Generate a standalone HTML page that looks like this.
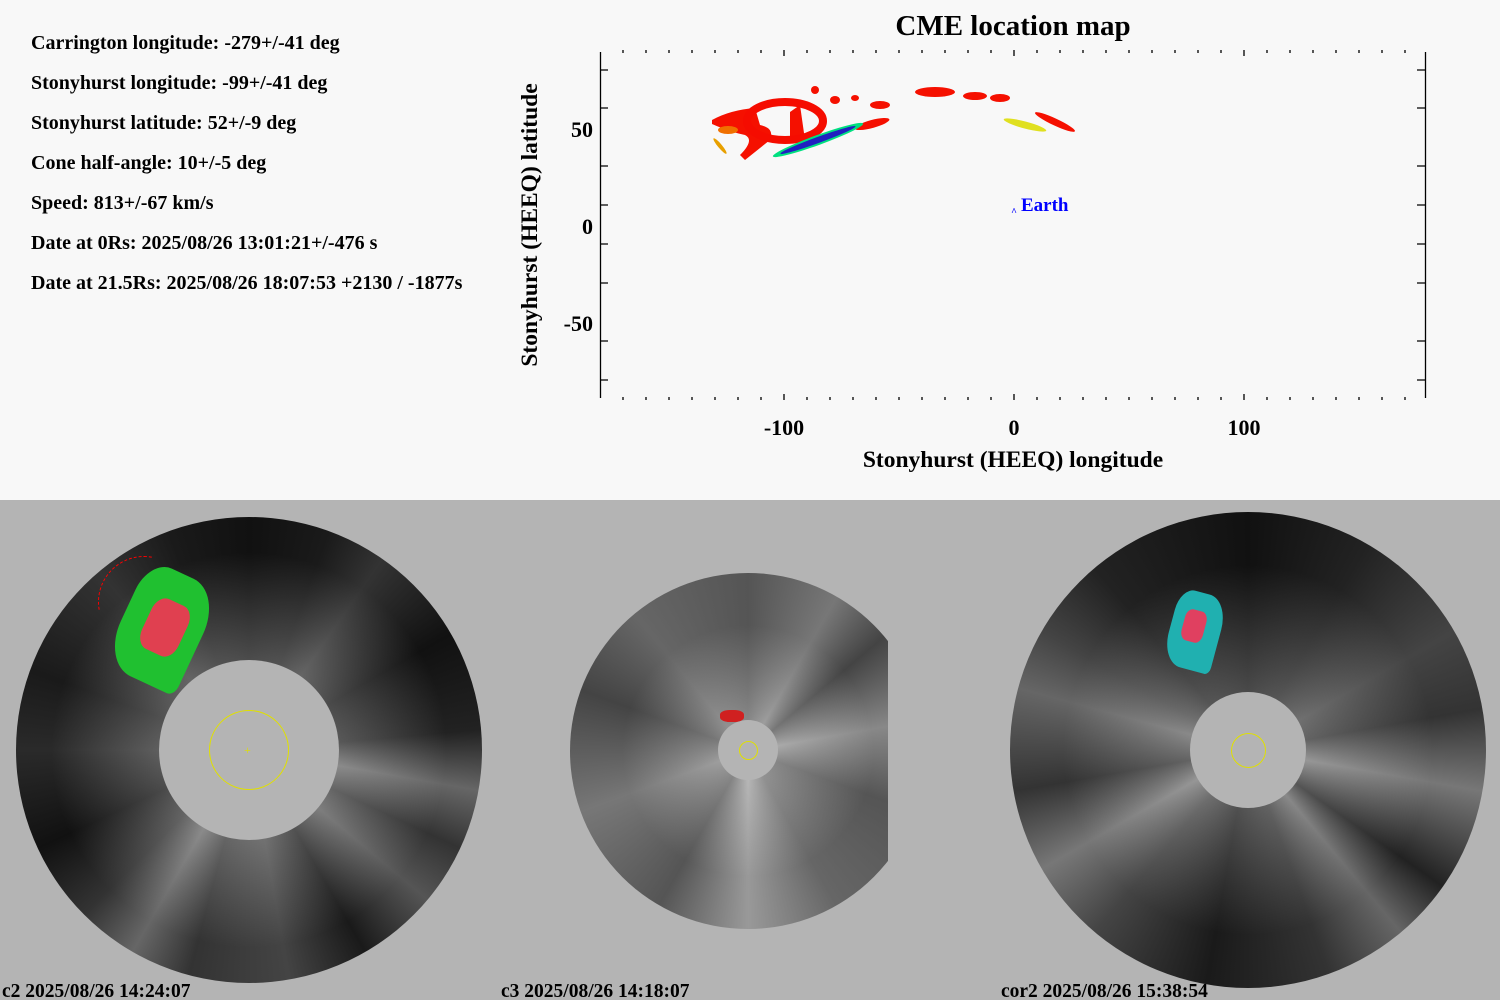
<!DOCTYPE html>
<html><head><meta charset="utf-8"><style>
body{margin:0;width:1500px;height:1000px;overflow:hidden;background:#f8f8f8;font-family:"Liberation Serif",serif;position:relative}
.info{position:absolute;left:31px;font-size:20px;font-weight:bold;color:#000;white-space:nowrap}
.bot{position:absolute;left:0;top:500px;width:1500px;height:500px;background:#b4b4b4;overflow:hidden}
.disk{position:absolute;border-radius:50%}
.cap{position:absolute;top:481px;font-size:19.5px;font-weight:bold;white-space:nowrap}
</style></head><body>
<div class="info" style="top:32px">Carrington longitude: -279+/-41 deg</div>
<div class="info" style="top:72px">Stonyhurst longitude: -99+/-41 deg</div>
<div class="info" style="top:112px">Stonyhurst latitude: 52+/-9 deg</div>
<div class="info" style="top:152px">Cone half-angle: 10+/-5 deg</div>
<div class="info" style="top:192px">Speed: 813+/-67 km/s</div>
<div class="info" style="top:232px">Date at 0Rs: 2025/08/26 13:01:21+/-476 s</div>
<div class="info" style="top:272px">Date at 21.5Rs: 2025/08/26 18:07:53 +2130 / -1877s</div>

<svg style="position:absolute;left:0;top:0" width="1500" height="500" font-family="Liberation Serif, serif" font-weight="bold">
<text x="1013" y="35" font-size="29" text-anchor="middle">CME location map</text>
<g stroke="#000" stroke-width="1.3" fill="none">
<line x1="600.5" y1="52" x2="600.5" y2="398"/>
<line x1="1425.5" y1="52" x2="1425.5" y2="398"/>
<path d="M623,50v3M646,50v3M669,50v3M692,50v3M715,50v3M738,50v3M761,50v3M784,50v6M807,50v3M830,50v3M853,50v3M876,50v3M899,50v3M922,50v3M945,50v3M968,50v3M991,50v3M1014,50v6M1037,50v3M1060,50v3M1083,50v3M1106,50v3M1129,50v3M1152,50v3M1175,50v3M1198,50v3M1221,50v3M1244,50v6M1267,50v3M1290,50v3M1313,50v3M1336,50v3M1359,50v3M1382,50v3M1405,50v3"/>
<path d="M623,400v-3M646,400v-3M669,400v-3M692,400v-3M715,400v-3M738,400v-3M761,400v-3M784,400v-6M807,400v-3M830,400v-3M853,400v-3M876,400v-3M899,400v-3M922,400v-3M945,400v-3M968,400v-3M991,400v-3M1014,400v-6M1037,400v-3M1060,400v-3M1083,400v-3M1106,400v-3M1129,400v-3M1152,400v-3M1175,400v-3M1198,400v-3M1221,400v-3M1244,400v-6M1267,400v-3M1290,400v-3M1313,400v-3M1336,400v-3M1359,400v-3M1382,400v-3M1405,400v-3"/>
<path d="M600,70h8M600,108h8M600,166h8M600,205h8M600,244h8M600,283h8M600,341h8M600,380h8"/>
<path d="M1425,70h-8M1425,108h-8M1425,166h-8M1425,205h-8M1425,244h-8M1425,283h-8M1425,341h-8M1425,380h-8"/>
</g>
<g font-size="22" text-anchor="middle">
<text x="784" y="435">-100</text><text x="1014" y="435">0</text><text x="1244" y="435">100</text>
<text x="593" y="137" text-anchor="end">50</text><text x="593" y="234" text-anchor="end">0</text><text x="593" y="331" text-anchor="end">-50</text>
</g>
<text x="1013" y="467" font-size="23.5" text-anchor="middle">Stonyhurst (HEEQ) longitude</text>
<text transform="translate(537,225) rotate(-90)" font-size="23.5" text-anchor="middle">Stonyhurst (HEEQ) latitude</text>
<text x="1021" y="211" font-size="19" fill="#0000ff">Earth</text>
<text x="1014" y="215" font-size="10" fill="#0000ff" text-anchor="middle">^</text>
<g fill="#f51000">
<path d="M712,120 Q730,110 755,108 L760,125 Q775,128 770,140 L745,160 L740,155 Q755,140 745,135 Q730,132 712,124Z"/>
<path d="M790,112 L800,105 L805,140 L790,140Z"/>
<ellipse cx="785" cy="121" rx="38" ry="19" fill="none" stroke="#f50c00" stroke-width="8"/>
<ellipse cx="880" cy="105" rx="10" ry="4"/><ellipse cx="872" cy="124" rx="18" ry="4" transform="rotate(-15 872 124)"/>
<ellipse cx="935" cy="92" rx="20" ry="5"/><ellipse cx="975" cy="96" rx="12" ry="4"/><ellipse cx="1000" cy="98" rx="10" ry="4"/>
<ellipse cx="1055" cy="122" rx="22" ry="3.5" transform="rotate(25 1055 122)"/>
<ellipse cx="835" cy="100" rx="5" ry="4"/><ellipse cx="855" cy="98" rx="4" ry="3"/><ellipse cx="815" cy="90" rx="4" ry="4"/>
</g>
<ellipse cx="728" cy="130" rx="10" ry="4" fill="#f07000"/>
<ellipse cx="720" cy="146" rx="10" ry="2" fill="#e8a000" transform="rotate(50 720 146)"/>
<ellipse cx="818" cy="140" rx="48" ry="5" fill="#00e080" transform="rotate(-20 818 140)"/>
<ellipse cx="818" cy="140" rx="40" ry="3" fill="#2020c0" transform="rotate(-20 818 140)"/>
<ellipse cx="1025" cy="125" rx="22" ry="3.5" fill="#e0e020" transform="rotate(15 1025 125)"/>
</svg>

<div class="bot">
 <div class="disk" style="left:16px;top:17px;width:466px;height:466px;background:radial-gradient(circle,rgba(255,255,255,0.3) 20%,rgba(0,0,0,0) 60%),conic-gradient(from 0deg,#111,#1a1a1a 20deg,#333 35deg,#111 60deg,#222 85deg,#666 100deg,#333 115deg,#555 130deg,#1a1a1a 150deg,#444 170deg,#333 195deg,#666 210deg,#333 225deg,#111 245deg,#2a2a2a 270deg,#1a1a1a 290deg,#333 320deg,#1a1a1a 340deg,#111)"></div>
 <div style="position:absolute;left:122px;top:70px;width:80px;height:115px;background:#20c030;transform:rotate(25deg);border-radius:30% 40% 10% 40%"></div>
 <div style="position:absolute;left:145px;top:100px;width:40px;height:55px;background:#e04050;transform:rotate(25deg);border-radius:30%"></div>
 <div class="disk" style="left:159px;top:160px;width:180px;height:180px;background:#b4b4b4"></div>
 <div class="disk" style="left:209px;top:210px;width:78px;height:78px;border:1px solid #e0e000"></div>
 <div style="position:absolute;left:244px;top:243px;color:#e0e000;font-size:12px">+</div>
 <div class="disk" style="left:98px;top:56px;width:90px;height:90px;border:1px dashed #f00;clip-path:polygon(0 0,60% 0,60% 60%,0 60%)"></div>
 <div class="disk" style="left:570px;top:73px;width:356px;height:356px;clip-path:inset(0 38px 0 0);background:radial-gradient(circle,rgba(255,255,255,0.3) 10%,rgba(0,0,0,0) 50%),conic-gradient(#555,#777 30deg,#444 50deg,#888 80deg,#555 110deg,#666 150deg,#999 180deg,#555 210deg,#777 250deg,#444 290deg,#666 320deg,#555)"></div>
 <div class="disk" style="left:718px;top:220px;width:60px;height:60px;background:#b4b4b4"></div>
 <div class="disk" style="left:739px;top:241px;width:17px;height:17px;border:1px solid #e0e000"></div>
 <div style="position:absolute;left:720px;top:210px;width:24px;height:12px;background:#d02020;border-radius:40%"></div>
 <div class="disk" style="left:1010px;top:12px;width:476px;height:476px;background:radial-gradient(circle,rgba(255,255,255,0.25) 15%,rgba(0,0,0,0) 55%),conic-gradient(#111,#222 30deg,#444 60deg,#333 80deg,#777 100deg,#222 125deg,#666 140deg,#333 160deg,#1a1a1a 190deg,#444 220deg,#777 240deg,#333 260deg,#666 285deg,#444 300deg,#222 320deg,#111)"></div>
 <div style="position:absolute;left:1170px;top:92px;width:50px;height:78px;background:#20b0b0;transform:rotate(15deg);border-radius:30% 40% 10% 40%"></div>
 <div style="position:absolute;left:1183px;top:110px;width:22px;height:32px;background:#e04060;transform:rotate(15deg);border-radius:30%"></div>
 <div class="disk" style="left:1190px;top:192px;width:116px;height:116px;background:#b4b4b4"></div>
 <div class="disk" style="left:1231px;top:233px;width:33px;height:33px;border:1px solid #e0e000"></div>
 <div class="cap" style="left:2px">c2 2025/08/26 14:24:07</div>
 <div class="cap" style="left:501px">c3 2025/08/26 14:18:07</div>
 <div class="cap" style="left:1001px">cor2 2025/08/26 15:38:54</div>
</div>
</body></html>
